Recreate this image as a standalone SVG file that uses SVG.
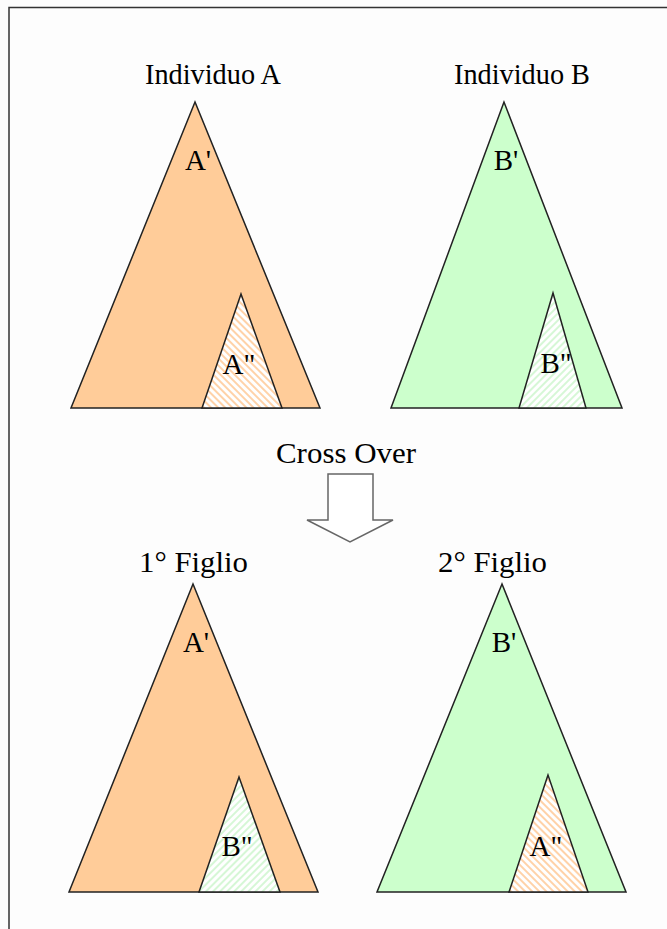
<svg xmlns="http://www.w3.org/2000/svg" width="667" height="929" viewBox="0 0 667 929">
<defs>
<pattern id="hatchA" patternUnits="userSpaceOnUse" width="5" height="5" patternTransform="rotate(-45)">
<rect width="5" height="5" fill="#ffffff"/>
<rect width="2" height="5" fill="#ffd2a8"/>
</pattern>
<pattern id="hatchB" patternUnits="userSpaceOnUse" width="5" height="5" patternTransform="rotate(45)">
<rect width="5" height="5" fill="#ffffff"/>
<rect width="2" height="5" fill="#d6f7d6"/>
</pattern>
<style>
.orange{fill:#ffcc99;stroke:#222;stroke-width:1.5}
.green{fill:#ccffcc;stroke:#222;stroke-width:1.5}
.ha{fill:url(#hatchA);stroke:#222;stroke-width:1.5}
.hb{fill:url(#hatchB);stroke:#222;stroke-width:1.5}
text{font-family:"Liberation Serif","Times New Roman",serif;fill:#000;font-size:29px}
</style>
</defs>
<rect width="667" height="929" fill="#fdfdfd"/>
<path d="M9,929 V7.5 H667" fill="none" stroke="#333" stroke-width="1.5"/>

<g id="individuoA">
<text x="145" y="84" textLength="136" lengthAdjust="spacingAndGlyphs">Individuo A</text>
<polygon class="orange" points="195,102 71,408 320,408"/>
<polygon class="ha" points="241,294 202,408 282,408"/>
<text x="198" y="170" text-anchor="middle">A'</text>
<text x="239" y="374" text-anchor="middle">A"</text>
</g>

<g id="individuoB">
<text x="454" y="84" textLength="136" lengthAdjust="spacingAndGlyphs">Individuo B</text>
<polygon class="green" points="504,102 391,408 622,408"/>
<polygon class="hb" points="553,293 519,408 586,408"/>
<text x="506" y="170" text-anchor="middle">B'</text>
<text x="556" y="373" text-anchor="middle">B"</text>
</g>

<g id="crossover">
<text x="276" y="463" textLength="140" lengthAdjust="spacingAndGlyphs">Cross Over</text>
<polygon points="328,474 373,474 373,520 393,520 350,542 307,520 328,520" fill="#ffffff" stroke="#666" stroke-width="1.5"/>
</g>

<g id="figlio1">
<text x="139" y="572" textLength="109" lengthAdjust="spacingAndGlyphs">1° Figlio</text>
<polygon class="orange" points="193,584 69,892 318,892"/>
<polygon class="hb" points="239,777 199,892 280,892"/>
<text x="196" y="652" text-anchor="middle">A'</text>
<text x="237" y="856" text-anchor="middle">B"</text>
</g>

<g id="figlio2">
<text x="438" y="572" textLength="109" lengthAdjust="spacingAndGlyphs">2° Figlio</text>
<polygon class="green" points="502,584 377,892 626,892"/>
<polygon class="ha" points="548,775 509,892 588,892"/>
<text x="504" y="652" text-anchor="middle">B'</text>
<text x="546" y="856" text-anchor="middle">A"</text>
</g>
</svg>
